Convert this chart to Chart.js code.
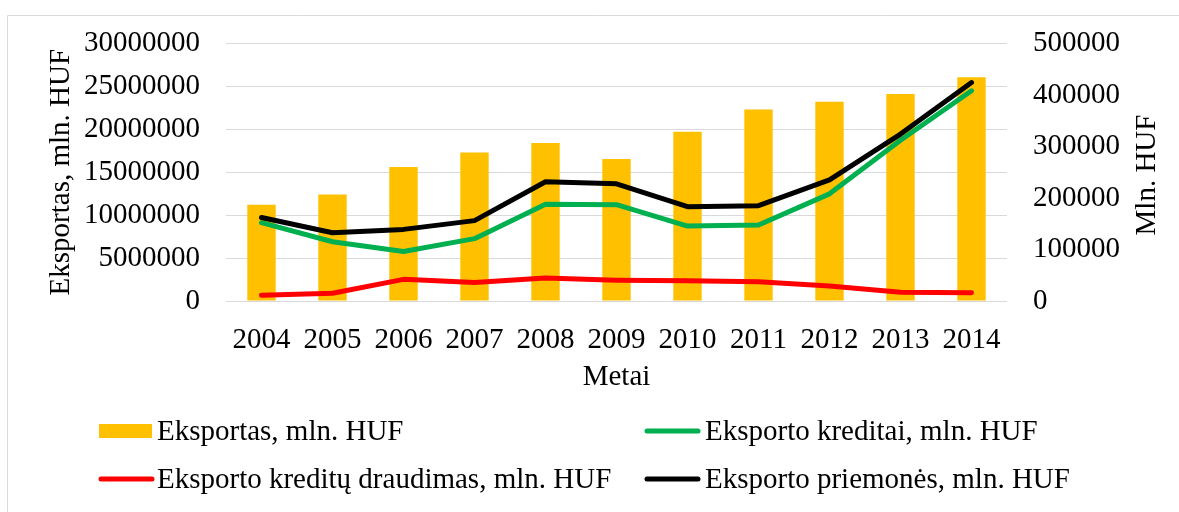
<!DOCTYPE html>
<html lang="lt">
<head>
    <meta charset="UTF-8">
    <title>Eksportas ir eksporto priemonės</title>
    <script src="https://cdn.jsdelivr.net/npm/chart.js"></script>
    <style>
        html, body { margin: 0; padding: 0; background: #fff; }
    </style>
</head>
<body>
<canvas id="myChart" width="1179" height="512"></canvas>

<script>
    // Duomenys
    var metai = ['2004', '2005', '2006', '2007', '2008', '2009', '2010', '2011', '2012', '2013', '2014'];
    var eksportas = [11200000, 12400000, 15600000, 17300000, 18400000, 16550000, 19700000, 22300000, 23200000, 24100000, 26050000];
    var kreditai = [152000, 115000, 96000, 121000, 188000, 187000, 145500, 147500, 208000, 312000, 408000];
    var draudimas = [11000, 15000, 42000, 36000, 44500, 40500, 39500, 37500, 29000, 17000, 16000];
    var priemones = [162000, 132500, 139000, 156000, 231500, 227500, 183000, 185000, 235000, 324000, 424000];

    var kairesTicks = [0, 5000000, 10000000, 15000000, 20000000, 25000000, 30000000];
    var desinesTicks = [0, 100000, 200000, 300000, 400000, 500000];

    var serif = "'Liberation Serif', 'Times New Roman', serif";
    var ctx = document.getElementById('myChart').getContext('2d');

    // Rėmelis, dešinės ašies pavadinimas ir legenda dviem stulpeliais
    var piesimas = {
        id: 'piesimas',
        beforeDraw: function (chart) {
            var c = chart.ctx;
            c.save();
            c.strokeStyle = '#d9d9d9';
            c.lineWidth = 1;
            c.beginPath();
            c.moveTo(7.5, 512);
            c.lineTo(7.5, 15.5);
            c.lineTo(1179, 15.5);
            c.stroke();
            c.restore();
        },
        afterDraw: function (chart) {
            var c = chart.ctx;
            c.save();
            c.fillStyle = '#000';
            c.font = '29px ' + serif;
            c.textAlign = 'center';
            c.textBaseline = 'middle';
            c.translate(1147, 175);
            c.rotate(-Math.PI / 2);
            c.fillText('Mln. HUF', 0, 0);
            c.restore();

            // legenda
            var tvarka = [0, 1, 2, 3];
            var sx = [99, 645];
            var tx = [157, 705];
            var ry = [431, 479];
            c.save();
            c.font = '29px ' + serif;
            c.textBaseline = 'middle';
            c.textAlign = 'left';
            tvarka.forEach(function (di, k) {
                var ds = chart.data.datasets[di];
                var col = k % 2, row = Math.floor(k / 2);
                var x = sx[col], y = ry[row];
                if (ds.type === 'bar') {
                    c.fillStyle = ds.backgroundColor;
                    c.fillRect(x, y - 7, 53, 14);
                } else {
                    c.strokeStyle = ds.borderColor;
                    c.lineWidth = 5;
                    c.lineCap = 'round';
                    c.beginPath();
                    c.moveTo(x + 2, y);
                    c.lineTo(x + 53, y);
                    c.stroke();
                }
                c.fillStyle = '#000';
                c.fillText(ds.label, tx[col], y + 1);
            });
            c.restore();
        }
    };

    var myChart = new Chart(ctx, {
        data: {
            labels: metai,
            datasets: [
                {
                    type: 'bar',
                    label: 'Eksportas, mln. HUF',
                    data: eksportas,
                    backgroundColor: '#ffc000',
                    yAxisID: 'y',
                    categoryPercentage: 1,
                    barPercentage: 0.4,
                    order: 4
                },
                {
                    type: 'line',
                    label: 'Eksporto kreditai, mln. HUF',
                    data: kreditai,
                    borderColor: '#00b050',
                    backgroundColor: '#00b050',
                    borderWidth: 5,
                    pointRadius: 0,
                    borderCapStyle: 'round',
                    borderJoinStyle: 'round',
                    tension: 0,
                    yAxisID: 'y1',
                    order: 3
                },
                {
                    type: 'line',
                    label: 'Eksporto kreditų draudimas, mln. HUF',
                    data: draudimas,
                    borderColor: '#ff0000',
                    backgroundColor: '#ff0000',
                    borderWidth: 5,
                    pointRadius: 0,
                    borderCapStyle: 'round',
                    borderJoinStyle: 'round',
                    tension: 0,
                    yAxisID: 'y1',
                    order: 2
                },
                {
                    type: 'line',
                    label: 'Eksporto priemonės, mln. HUF',
                    data: priemones,
                    borderColor: '#000000',
                    backgroundColor: '#000000',
                    borderWidth: 5,
                    pointRadius: 0,
                    borderCapStyle: 'round',
                    borderJoinStyle: 'round',
                    tension: 0,
                    yAxisID: 'y1',
                    order: 1
                }
            ]
        },
        options: {
            responsive: false,
            animation: false,
            devicePixelRatio: 1,
            layout: { padding: { top: 43, left: 0, right: 0, bottom: 111 } },
            plugins: {
                legend: { display: false },
                tooltip: { enabled: false }
            },
            scales: {
                x: {
                    grid: { display: false },
                    border: { display: false },
                    ticks: { color: '#000', font: { family: serif, size: 29 }, padding: 14, maxRotation: 0 },
                    title: {
                        display: true,
                        text: 'Metai',
                        color: '#000',
                        font: { family: serif, size: 29 },
                        padding: { top: 0, bottom: 6 }
                    },
                    afterFit: function (scale) { scale.height = 100; }
                },
                y: {
                    position: 'left',
                    min: 0,
                    max: 30000000,
                    afterBuildTicks: function (scale) {
                        scale.ticks = kairesTicks.map(function (v) { return { value: v }; });
                    },
                    grid: { color: '#d9d9d9', lineWidth: 1, drawTicks: false },
                    border: { display: false },
                    ticks: {
                        color: '#000',
                        font: { family: serif, size: 29 },
                        padding: 26,
                        callback: function (v) { return String(v); }
                    },
                    title: {
                        display: true,
                        text: 'Eksportas, mln. HUF',
                        color: '#000',
                        font: { family: serif, size: 29 },
                        padding: { top: 44, bottom: 0 }
                    },
                    afterFit: function (scale) { scale.width = 226; }
                },
                y1: {
                    position: 'right',
                    min: 0,
                    max: 500000,
                    afterBuildTicks: function (scale) {
                        scale.ticks = desinesTicks.map(function (v) { return { value: v }; });
                    },
                    grid: { display: false, drawTicks: false },
                    border: { display: false },
                    ticks: {
                        color: '#000',
                        font: { family: serif, size: 29 },
                        padding: 26,
                        callback: function (v) { return String(v); }
                    },
                    afterFit: function (scale) { scale.width = 172; }
                }
            }
        },
        plugins: [piesimas]
    });
</script>
</body>
</html>
